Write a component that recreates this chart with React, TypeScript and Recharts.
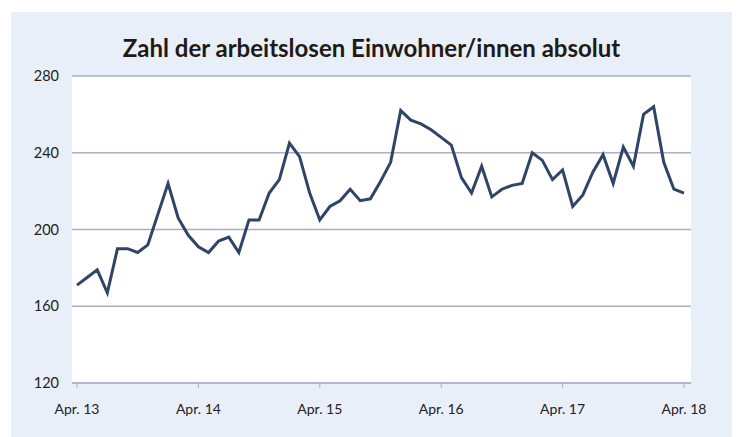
import React from 'react';
import { LineChart, Line, XAxis, YAxis, CartesianGrid } from 'recharts';

// monthly values, Apr. 13 to Apr. 18
const values = [
  171, 175, 179, 167, 190, 190, 188, 192, 208, 224, 206, 197,
  191, 188, 194, 196, 188, 205, 205, 219, 226, 245, 238, 219,
  205, 212, 215, 221, 215, 216, 225, 235, 262, 257, 255, 252,
  248, 244, 227, 219, 233, 217, 221, 223, 224, 240, 236, 226,
  231, 212, 218, 230, 239, 224, 243, 233, 260, 264, 235, 221,
  219,
];

const yearTicks = [0, 12, 24, 36, 48, 60];
const yearLabels = ['Apr. 13', 'Apr. 14', 'Apr. 15', 'Apr. 16', 'Apr. 17', 'Apr. 18'];
const yTicks = [120, 160, 200, 240, 280];

const chartData = values.map((v, i) => ({ i, value: v }));

const FONT = 'Lato, "Open Sans", sans-serif';
const GRID = '#a9afc5';

export default function App() {
  return (
    <div
      style={{
        position: 'absolute',
        left: 11,
        top: 12,
        width: 721,
        height: 425,
        background: '#e9eff8',
        fontFamily: FONT,
      }}
    >
      <div
        style={{
          position: 'absolute',
          left: 0,
          width: 721,
          top: 21,
          textAlign: 'center',
          fontSize: 24,
          fontWeight: 700,
          color: '#1f1a17',
        }}
      >
        Zahl der arbeitslosen Einwohner/innen absolut
      </div>
      <LineChart
        width={721}
        height={425}
        data={chartData}
        margin={{ top: 64, right: 41, bottom: 24, left: 11 }}
      >
        <CartesianGrid vertical={false} stroke={GRID} strokeWidth={1.3} fill="#ffffff" fillOpacity={1} />
        <XAxis
          dataKey="i"
          type="number"
          domain={[0, 60]}
          ticks={yearTicks}
          tickFormatter={(v: number) => yearLabels[yearTicks.indexOf(v)]}
          padding={{ left: 5, right: 7 }}
          height={30}
          stroke={GRID}
          tickSize={5}
          tickMargin={16}
          tick={{ fill: '#222222', fontSize: 14, fontFamily: FONT }}
        />
        <YAxis
          domain={[120, 280]}
          ticks={yTicks}
          width={50}
          axisLine={false}
          tickLine={false}
          tickMargin={7}
          tick={{ fill: '#222222', fontSize: 14.5, fontFamily: FONT }}
        />
        <Line
          type="linear"
          dataKey="value"
          stroke="#2f4467"
          strokeWidth={3}
          dot={false}
          isAnimationActive={false}
        />
      </LineChart>
    </div>
  );
}
